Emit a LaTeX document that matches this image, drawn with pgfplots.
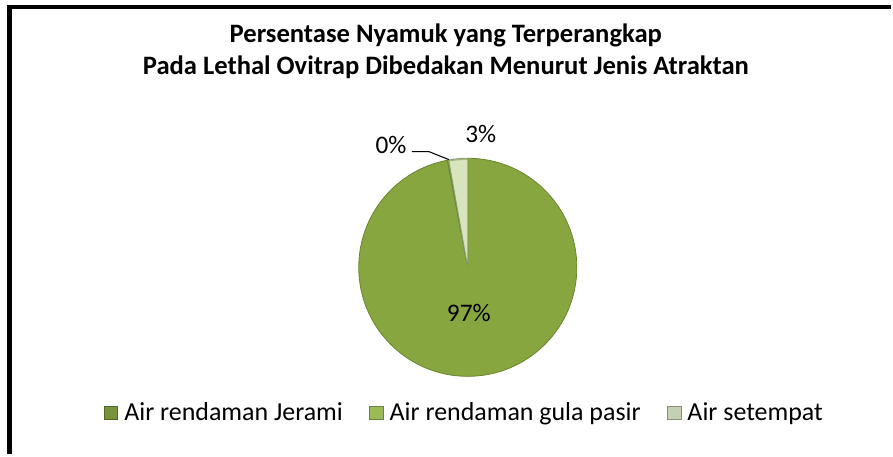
\documentclass[border=0pt]{standalone}
\usepackage{fontspec}
\setmainfont{Carlito}
\usepackage{pgfplots}
\usepackage{pgfplotstable}
\pgfplotsset{compat=1.18}
\definecolor{jerami}{HTML}{87A63F}
\definecolor{jeramiD}{HTML}{6A8530}
\definecolor{gula}{HTML}{9BBB59}
\definecolor{setempat}{HTML}{D8E4BC}
\definecolor{setempatD}{HTML}{8E9A80}
\definecolor{legJ}{HTML}{77933C}
\definecolor{legG}{HTML}{9BBB59}
\definecolor{legS}{HTML}{C4CFB4}

\pgfplotstableread{
idx value
0 97.0
1 0.2
2 2.8
}\piedata

\begin{document}
\begin{tikzpicture}
\pgfplotstablegetelem{0}{value}\of\piedata \let\vA\pgfplotsretval
\pgfplotstablegetelem{1}{value}\of\piedata \let\vB\pgfplotsretval
\pgfplotstablegetelem{2}{value}\of\piedata \let\vC\pgfplotsretval
\pgfmathsetmacro\aS{90}
\pgfmathsetmacro\aA{90-3.6*\vA}
\pgfmathsetmacro\aB{\aA-3.6*\vB}
\pgfmathsetmacro\aC{\aB-3.6*\vC}
\def\R{82pt}
\begin{axis}[
  x=0.75pt, y=0.75pt, y dir=reverse,
  xmin=0, xmax=893, ymin=0, ymax=455,
  hide axis, clip=false,
  legend columns=3,
  legend style={at={(axis cs:466,414)}, anchor=center, draw=none, fill=none,
    font=\fontsize{19.5}{22}\selectfont,
    nodes={inner sep=2pt},
    /tikz/every even column/.append style={column sep=18pt},
    /tikz/every odd column/.append style={column sep=0pt}},
  legend image code/.code={\draw[#1] (0pt,-5pt) rectangle (10pt,5pt); \path[draw=none, fill=none] (0pt,0pt) -- (13pt,0pt);},
]
\path (axis cs:0,0) rectangle (axis cs:893,455);
% frame
\draw[line width=3.5pt, black] (axis cs:9.5,455) -- (axis cs:9.5,7) -- (axis cs:893,7);
% title
\node[align=center, font=\fontsize{20}{24}\selectfont\bfseries] at (axis cs:447,51)
  {Persentase Nyamuk yang Terperangkap\\Pada Lethal Ovitrap Dibedakan Menurut Jenis Atraktan};
% pie slices
\fill[jerami, draw=jeramiD, line width=0.6pt] (axis cs:469,268) -- ++(\aS:\R) arc[start angle=\aS, end angle=\aA, radius=\R] -- cycle;
\fill[gula, draw=jeramiD, line width=0.6pt] (axis cs:469,268) -- ++(\aA:\R) arc[start angle=\aA, end angle=\aB, radius=\R] -- cycle;
\fill[setempat, draw=setempatD, line width=0.6pt] (axis cs:469,268) -- ++(\aB:\R) arc[start angle=\aB, end angle=\aC, radius=\R] -- cycle;
\draw[jeramiD!80!white, line width=1.2pt, opacity=0.6] (axis cs:469,268) ++(\aA:\R-0.6pt) arc[start angle=\aA, end angle=\aS-360, radius=\R-0.6pt];
% labels
\draw[black, line width=0.8pt] (axis cs:413,152) -- (axis cs:430,152) -- (axis cs:450,160);
\node[font=\fontsize{19}{22}\selectfont] at (axis cs:392,145) {0\%};
\node[font=\fontsize{19}{22}\selectfont] at (axis cs:482,134) {3\%};
\node[font=\fontsize{19}{22}\selectfont] at (axis cs:470,314) {97\%};
% legend
\addlegendimage{draw=legJ!70!black, fill=legJ}
\addlegendentry{Air rendaman Jerami}
\addlegendimage{draw=legG!70!black, fill=legG}
\addlegendentry{Air rendaman gula pasir}
\addlegendimage{draw=legS!70!black, fill=legS}
\addlegendentry{Air setempat}
\end{axis}
\end{tikzpicture}
\end{document}
